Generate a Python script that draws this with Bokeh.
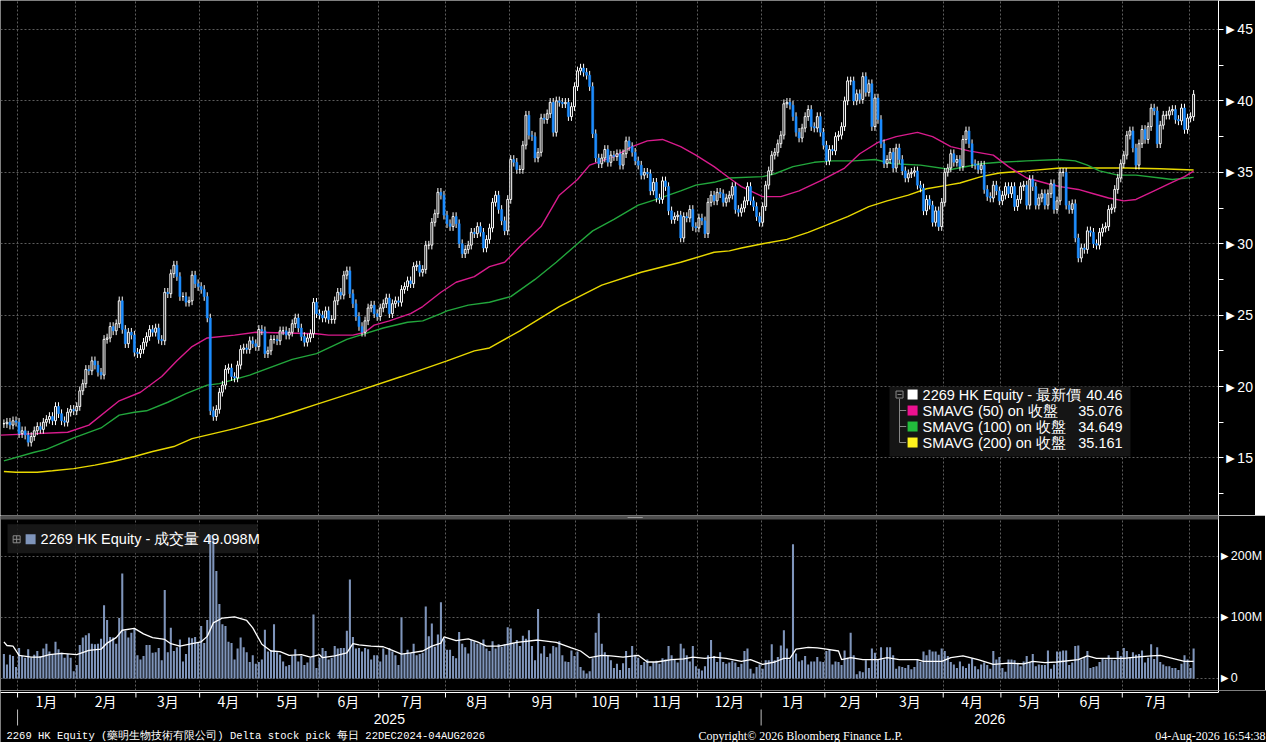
from bokeh.plotting import figure
from bokeh.layouts import column
from bokeh.models import Range1d, FixedTicker, SingleIntervalTicker, Span, BoxAnnotation
from bokeh.core.properties import value
from bokeh.embed import file_html
from bokeh.resources import INLINE

# trading days per month, Dec 2024 .. Aug 2026
month_names = ["12月", "1月", "2月", "3月", "4月", "5月", "6月", "7月", "8月", "9月", "10月", "11月", "12月",
               "1月", "2月", "3月", "4月", "5月", "6月", "7月", "8月"]
month_days = [5, 19, 20, 21, 19, 20, 20, 22, 21, 22, 20, 20, 21, 21, 17, 22, 19, 19, 21, 22, 2]
years = ["2025", "2026"]

# daily close (HKD)
close = [
    17.4, 17.5, 17.3, 17.6, 17.5,
    16.7, 16.9, 16.6, 16.1, 16.5, 16.9, 17.2, 17.0, 17.5, 17.7, 17.9, 17.6, 18.6, 18.1, 17.6, 17.5, 18.2, 18.4, 18.3,
    18.6, 19.7, 20.2, 21.2, 21.1, 21.8, 21.5, 21.0, 20.8, 23.3, 23.4, 24.2, 23.9, 24.4, 26.0, 24.0, 23.0, 23.8, 23.6, 22.4,
    22.3, 22.6, 23.1, 23.5, 24.0, 23.8, 24.1, 23.3, 23.2, 26.6, 26.5, 27.9, 28.5, 27.7, 26.3, 26.3, 25.9, 26.0, 27.8, 27.2, 27.0,
    26.8, 26.3, 24.8, 18.3, 17.9, 18.4, 19.6, 20.1, 21.2, 21.3, 20.7, 20.6, 21.5, 22.6, 22.7, 22.6, 23.2, 23.0, 22.8,
    24.0, 23.9, 22.3, 22.5, 23.3, 23.3, 23.2, 23.9, 23.9, 23.6, 23.8, 24.4, 24.8, 24.1, 23.5, 23.1, 23.4, 23.7, 25.9, 25.1,
    25.0, 24.8, 25.3, 24.7, 24.7, 26.0, 26.6, 26.4, 27.8, 28.1, 26.5, 25.8, 24.9, 24.2, 23.8, 24.6, 25.5, 25.7, 25.1, 24.9,
    25.5, 25.8, 26.2, 25.1, 25.8, 26.0, 25.9, 26.8, 27.0, 27.4, 27.2, 28.4, 28.5, 28.0, 28.2, 29.9, 29.9, 31.5, 32.1, 33.6, 33.4, 32.0,
    31.4, 31.2, 31.9, 31.4, 30.0, 29.3, 29.6, 29.9, 30.8, 30.7, 31.2, 30.8, 29.7, 30.3, 31.1, 32.9, 33.4, 32.4, 31.6, 30.9, 33.1,
    35.9, 35.7, 35.2, 35.2, 36.9, 39.0, 37.6, 37.5, 36.0, 36.4, 38.8, 38.7, 39.1, 39.9, 37.8, 40.0, 39.9, 39.8, 39.9, 38.9, 39.6, 41.0,
    42.1, 42.3, 42.0, 41.8, 41.0, 37.7, 36.0, 35.6, 36.0, 36.6, 35.7, 36.2, 36.1, 36.3, 35.5, 36.3, 37.2, 36.8, 36.4, 35.8,
    35.5, 34.8, 35.0, 34.9, 33.7, 34.3, 33.2, 33.1, 34.4, 34.0, 32.3, 31.7, 31.9, 32.0, 30.4, 31.9, 31.8, 32.4, 31.2, 31.1,
    31.8, 31.6, 30.7, 32.9, 33.4, 33.0, 33.6, 33.5, 32.9, 33.2, 33.4, 34.0, 32.4, 32.2, 32.5, 33.0, 34.0, 33.0, 32.6, 31.9, 31.5,
    32.6, 34.1, 35.1, 36.2, 36.4, 37.0, 37.6, 39.8, 39.9, 39.7, 38.9, 37.8, 37.4, 38.1, 38.9, 39.4, 38.2, 38.1, 38.9, 37.8, 36.9,
    35.8, 36.6, 36.5, 37.5, 37.6, 38.2, 40.0, 41.4, 41.4, 40.0, 40.5, 40.1, 41.7, 40.6, 41.2, 38.2, 40.2,
    38.7, 37.0, 35.6, 35.9, 36.4, 35.3, 36.7, 35.9, 35.1, 34.6, 34.9, 35.0, 35.1, 34.1, 33.9, 32.3, 33.1, 32.7, 31.5, 32.3, 31.2, 32.9,
    35.0, 35.3, 36.3, 35.7, 35.9, 35.4, 37.3, 37.9, 37.0, 35.6, 35.5, 35.2, 35.5, 33.8, 33.3, 33.2, 34.1, 33.7, 33.0,
    33.4, 34.0, 33.5, 34.0, 32.6, 33.1, 34.0, 34.1, 32.7, 34.5, 34.0, 32.7, 33.2, 33.5, 32.7, 33.5, 34.2, 32.4, 33.0,
    35.0, 35.0, 32.7, 32.4, 32.8, 30.4, 29.0, 29.7, 29.6, 30.9, 30.8, 30.0, 29.9, 30.8, 31.1, 31.2, 32.4, 32.5, 33.8, 34.6, 35.6,
    36.2, 37.6, 37.9, 36.7, 35.5, 37.0, 38.0, 37.3, 38.2, 39.5, 39.3, 37.0, 38.3, 39.0, 39.0, 39.3, 39.4, 38.7, 38.6, 39.5, 38.0, 38.8,
    38.9, 40.46,
]

# daily volume (millions of shares)
volume = [
    40, 23, 39, 37, 19,
    50, 37, 34, 48, 34, 39, 45, 37, 49, 57, 44, 40, 60, 48, 42, 34, 40, 34, 12,
    22, 55, 67, 71, 74, 57, 56, 57, 65, 120, 96, 68, 67, 57, 99, 172, 78, 67, 75, 82,
    38, 31, 37, 55, 55, 42, 43, 50, 30, 145, 43, 83, 45, 51, 64, 28, 40, 67, 66, 68, 58,
    86, 58, 96, 235, 230, 176, 122, 89, 86, 60, 58, 31, 49, 67, 51, 43, 27, 38, 24,
    27, 31, 80, 44, 46, 89, 43, 39, 28, 20, 22, 37, 48, 28, 37, 22, 26, 34, 105, 17,
    34, 50, 45, 31, 34, 53, 49, 50, 50, 78, 162, 68, 49, 50, 44, 50, 48, 31, 38, 38,
    28, 49, 39, 50, 44, 38, 22, 100, 40, 47, 42, 57, 38, 40, 42, 118, 69, 90, 52, 72, 125, 66,
    47, 47, 37, 33, 76, 57, 51, 41, 63, 61, 57, 57, 64, 49, 45, 61, 49, 56, 52, 56, 84,
    82, 58, 63, 53, 70, 65, 79, 53, 30, 114, 41, 53, 35, 41, 53, 51, 61, 38, 28, 27, 46, 37,
    44, 19, 13, 8, 12, 33, 75, 107, 57, 43, 38, 30, 17, 24, 14, 25, 45, 17, 53, 39,
    34, 22, 27, 31, 20, 27, 29, 24, 33, 31, 53, 38, 31, 26, 57, 49, 38, 28, 53, 20,
    16, 13, 20, 38, 63, 37, 27, 43, 27, 24, 26, 29, 26, 19, 24, 45, 49, 16, 8, 19, 23,
    16, 30, 30, 56, 30, 35, 54, 79, 49, 31, 220, 41, 28, 30, 37, 23, 28, 28, 35, 28, 27,
    45, 47, 23, 28, 27, 22, 46, 34, 75, 38, 7, 12, 10, 30, 17, 49, 42,
    31, 51, 31, 51, 51, 38, 16, 20, 19, 17, 22, 15, 19, 31, 27, 44, 38, 47, 44, 44, 39, 49,
    45, 37, 27, 23, 17, 28, 20, 17, 24, 33, 20, 15, 23, 26, 22, 16, 45, 31, 35,
    17, 11, 31, 31, 30, 24, 20, 28, 37, 27, 40, 20, 23, 22, 22, 46, 16, 23, 44,
    44, 46, 46, 22, 26, 53, 54, 31, 35, 45, 17, 19, 20, 27, 32, 31, 38, 31, 30, 45, 37,
    50, 45, 35, 43, 39, 40, 46, 26, 34, 56, 32, 51, 27, 23, 20, 20, 17, 17, 14, 24, 38, 31,
    17, 49.098,
]

# moving averages (trading-day index, value)
sma50_day = [-1, 21, 28, 38, 45, 52, 57, 62, 67, 76, 83, 103, 107, 115, 119, 122, 127, 134, 138, 144,
             149, 155, 160, 165, 170, 177, 183, 189, 193, 201, 207, 212, 217, 223, 228, 234, 239, 243, 250, 256,
             262, 269, 277, 282, 288, 294, 301, 306, 312, 318, 326, 331, 337, 344, 348, 354, 359, 364, 369, 373,
             379, 384, 389, 392]
sma50 = [16.6, 16.8, 17.3, 19.0, 19.6, 20.7, 21.8, 22.8, 23.4, 23.6, 23.8, 23.7, 23.6, 23.6, 23.8, 24.3, 24.6, 25.1, 25.6, 26.6,
         27.3, 27.7, 28.4, 28.7, 29.8, 31.2, 33.4, 34.5, 35.5, 36.1, 36.8, 37.2, 37.3, 36.8, 36.2, 35.4, 34.6, 34.0, 33.3, 33.3,
         33.7, 34.4, 35.3, 36.3, 37.1, 37.5, 37.8, 37.5, 36.8, 36.5, 36.2, 35.4, 34.6, 34.2, 34.0, 33.8, 33.5, 33.2, 33.0, 33.1,
         33.7, 34.2, 34.7, 35.076]
sma100_day = [0, 10, 14, 23, 32, 38, 43, 47, 54, 60, 67, 71, 81, 95, 103, 113, 119, 125, 133, 138,
              144, 146, 153, 160, 167, 175, 182, 189, 194, 201, 209, 215, 223, 228, 234, 239, 250, 254, 260, 267,
              273, 280, 287, 293, 302, 312, 322, 328, 337, 348, 353, 357, 361, 367, 373, 381, 385, 392]
sma100 = [14.8, 15.4, 15.6, 16.4, 17.1, 18.0, 18.2, 18.3, 18.9, 19.5, 20.1, 20.2, 20.8, 21.9, 22.3, 23.3, 23.7, 24.1, 24.5, 24.6,
          25.1, 25.3, 25.7, 25.9, 26.3, 27.5, 28.7, 30.0, 30.9, 31.7, 32.7, 33.1, 33.7, 34.1, 34.3, 34.6, 34.7, 34.9, 35.4, 35.7,
          35.8, 35.8, 35.9, 35.6, 35.5, 35.2, 35.6, 35.7, 35.8, 35.9, 35.8, 35.5, 35.1, 34.8, 34.8, 34.6, 34.5, 34.649]
sma200_day = [0, 4, 11, 16, 23, 30, 36, 43, 49, 56, 62, 69, 76, 82, 89, 95, 103, 114, 131, 146,
              155, 160, 170, 183, 197, 210, 223, 234, 239, 243, 250, 258, 265, 271, 278, 285, 291, 298, 304, 311,
              315, 322, 328, 337, 348, 359, 370, 381, 392]
sma200 = [14.05, 14.0, 14.0, 14.1, 14.25, 14.5, 14.75, 15.1, 15.45, 15.8, 16.35, 16.7, 17.05, 17.4, 17.8, 18.2, 18.75, 19.5, 20.7, 21.8,
          22.5, 22.7, 23.9, 25.6, 27.1, 28.0, 28.7, 29.4, 29.5, 29.7, 30.0, 30.3, 30.8, 31.3, 31.9, 32.6, 33.0, 33.4, 33.85, 34.1,
          34.25, 34.7, 34.95, 35.1, 35.3, 35.3, 35.3, 35.25, 35.161]
vma_day = [0, 1, 3, 5, 9, 12, 15, 19, 24, 28, 32, 34, 37, 39, 43, 46, 49, 53, 55, 58,
           62, 65, 67, 69, 72, 76, 80, 82, 85, 88, 91, 94, 98, 101, 104, 105, 109, 113, 115, 117,
           121, 125, 127, 131, 134, 138, 141, 144, 145, 149, 153, 156, 159, 163, 166, 169, 176, 182, 187, 190,
           193, 197, 200, 204, 209, 212, 215, 220, 224, 227, 231, 234, 238, 243, 246, 250, 254, 257, 259, 261,
           265, 268, 271, 275, 276, 279, 283, 288, 291, 295, 301, 303, 309, 312, 316, 321, 326, 331, 336, 339,
           343, 347, 354, 357, 360, 365, 369, 373, 378, 381, 385, 389, 392]
vma = [60, 54, 53, 38, 35, 35, 39, 41, 39, 46, 48, 58, 67, 79, 82, 73, 67, 64, 57, 53,
       57, 60, 69, 91, 99, 101, 95, 83, 56, 45, 44, 38, 39, 35, 39, 34, 37, 42, 57, 55,
       53, 52, 48, 40, 42, 45, 53, 58, 68, 62, 65, 60, 53, 53, 56, 59, 63, 59, 50, 45,
       34, 38, 37, 35, 38, 27, 27, 31, 32, 35, 33, 35, 33, 28, 31, 23, 27, 33, 33, 48,
       51, 50, 48, 45, 31, 34, 31, 31, 34, 31, 31, 28, 28, 34, 37, 31, 23, 25, 24, 28,
       26, 27, 31, 37, 33, 33, 33, 35, 37, 38, 33, 28, 28]

BG = "black"
GRID = "#5c5c5c"
DOWN = "#1c8cff"
VOL = "#7f95bb"
C50, C100, C200 = "#d81b8c", "#22a63c", "#e8d800"
FONT = "Liberation Sans"
wick = 0.3

W, FRAME_W = 1266, 1218
x_start, x_end = -1.12, 400.2
xr = Range1d(x_start, x_end)
px = (x_end - x_start) / FRAME_W  # index units per pixel

# month boundaries and label positions (trading-day index)
bounds, centers = [], []
pos = 0
for d in month_days:
    centers.append(pos + (d - 1) / 2)
    bounds.append(pos + d - 0.5)
    pos += d
bounds = bounds[:-1]
lab_x = [c for c, d in zip(centers, month_days) if d >= 10]
lab_t = [m for m, d in zip(month_names, month_days) if d >= 10]
year_bounds = [bounds[0], bounds[12]]
year_centers = [(bounds[0] + bounds[12]) / 2, (bounds[12] + x_end) / 2]

# ---- candles ----
opens = [close[0]] + close[:-1]
ix = list(range(len(close)))
up = [i for i in ix if close[i] >= opens[i]]
dn = [i for i in ix if close[i] < opens[i]]
hi = [max(o, c) + wick for o, c in zip(opens, close)]
lo = [min(o, c) - wick for o, c in zip(opens, close)]


def style_right_axis(ax, labels, size):
    ax.axis_line_color = "white"
    ax.major_tick_line_color = None
    ax.major_tick_out = 0
    ax.major_tick_in = 0
    ax.minor_tick_line_color = "white"
    ax.minor_tick_out = 5
    ax.minor_tick_in = 0
    ax.major_label_overrides = labels
    ax.major_label_standoff = 0
    ax.major_label_text_color = "white"
    ax.major_label_text_font = FONT
    ax.major_label_text_font_size = size


def base_fig(h, yr):
    f = figure(frame_width=FRAME_W, frame_height=h, x_range=xr, y_range=yr,
               y_axis_location="right", x_axis_location=None, toolbar_location=None,
               output_backend="svg", background_fill_color=BG, border_fill_color=BG,
               outline_line_color=None, min_border=0)
    for g in (f.xgrid, f.ygrid):
        g.grid_line_color = GRID
        g.grid_line_dash = "2 2"
    f.xgrid.ticker = FixedTicker(ticks=bounds)
    return f


price = base_fig(515, Range1d(10.97, 47.03))
price.yaxis.ticker = SingleIntervalTicker(interval=5, num_minor_ticks=2)
style_right_axis(price.yaxis[0], {v: "►" + str(v) for v in range(10, 50, 5)}, "14px")

price.line(sma200_day, sma200, line_color=C200, line_width=1.4)
price.line(sma100_day, sma100, line_color=C100, line_width=1.4)
price.line(sma50_day, sma50, line_color=C50, line_width=1.4)

price.segment(x0=ix, y0=lo, x1=ix, y1=hi, line_color="white", line_width=1)
price.vbar(x=dn, top=[opens[i] for i in dn], bottom=[close[i] for i in dn], width=0.7,
           fill_color=DOWN, line_color=DOWN, line_width=0.5)
price.vbar(x=up, top=[close[i] for i in up], bottom=[opens[i] for i in up], width=0.62,
           fill_color=BG, line_color="white", line_width=1)

# price legend
rows = [19.44, 18.32, 17.20, 16.08]
price.quad(left=[291.8], right=[371.2], bottom=[15.1], top=[20.0], fill_color="#151515", line_color=None)
price.segment(x0=[295.1] * 4, y0=[rows[0] - 0.3, rows[1], rows[2], rows[3]],
              x1=[295.1, 297.3, 297.3, 297.3], y1=[rows[3], rows[1], rows[2], rows[3]],
              line_color="#8a8a8a", line_width=1)
price.scatter([295.1], [rows[0]], marker="square", size=7, fill_color="#151515", line_color="#8a8a8a")
price.scatter([295.1], [rows[0]], marker="dash", size=4, line_color="#8a8a8a")
price.scatter([299.4] * 4, rows, marker="square", size=10, line_color=None,
              fill_color=["white", "#ec118f", "#22bb3c", "#fff21e"])
legend_names = ["2269 HK Equity - 最新價", "SMAVG (50)  on 收盤", "SMAVG (100)  on 收盤", "SMAVG (200)  on 收盤"]
legend_vals = [f"{close[-1]:.2f}", f"{sma50[-1]:.3f}", f"{sma100[-1]:.3f}", f"{sma200[-1]:.3f}"]
price.text([302.7] * 4, rows, text=legend_names, text_color="white", text_font=value(FONT),
           text_font_size=value("14.5px"), text_baseline="middle", text_align="left")
price.text([368.6] * 4, rows, text=legend_vals, text_color="white", text_font=value(FONT),
           text_font_size=value("14.5px"), text_baseline="middle", text_align="right")

# ---- volume ----
vol = base_fig(175, Range1d(-19.7, 267))
vol.yaxis.ticker = FixedTicker(ticks=[0, 100, 200])
style_right_axis(vol.yaxis[0], {0: "►0", 100: "►100M", 200: "►200M"}, "12.5px")

vol.quad(left=[1.2], right=[83.6], bottom=[205], top=[252.5], fill_color="#1a1a1a", fill_alpha=0.9, line_color=None)
vol.vbar(x=list(range(len(volume))), top=volume, bottom=0, width=0.68, fill_color=VOL, line_color=None)
vol.line(vma_day, vma, line_color="white", line_width=1.3)

vol.scatter([4.2], [228], marker="square_cross", size=7, fill_color="#1a1a1a", line_color="#8a8a8a")
vol.scatter([8.8], [228], marker="square", size=10, fill_color=VOL, line_color=None)
vol.text([12.1], [228], text=[f"2269 HK Equity - 成交量 {volume[-1]:.3f}M"], text_color="white",
         text_font=value(FONT), text_font_size=value("14.5px"), text_baseline="middle", text_align="left")

# separator bar between the panels
vol.add_layout(Span(location=263.7, dimension="width", line_color="#4e4e4e", line_width=4))
vol.add_layout(BoxAnnotation(left=205.5, right=210.5, bottom=262.8, top=264.6, fill_color="#9a9a9a",
                             fill_alpha=1, line_color=None))

# ---- date axis strip and footer (y in pixels from the strip top) ----
strip = figure(frame_width=W, frame_height=52, x_range=Range1d(x_start, x_start + W * px),
               y_range=Range1d(52, 0), x_axis_location=None, y_axis_location=None,
               toolbar_location=None, output_backend="svg", background_fill_color=BG,
               border_fill_color=BG, outline_line_color=None, min_border=0)
strip.xgrid.visible = False
strip.ygrid.visible = False
strip.segment(x0=[x_start], y0=[2], x1=[x_end], y1=[2], line_color="white", line_width=1)
strip.segment(x0=[x_end], y0=[0], x1=[x_end], y1=[2], line_color="white", line_width=1)
strip.segment(x0=bounds, y0=[2] * len(bounds), x1=bounds, y1=[7] * len(bounds), line_color="white", line_width=1)
strip.text(lab_x, [10.5] * len(lab_x), text=lab_t, text_color="white", text_font=value("Noto Sans CJK TC"),
           text_font_size=value("14px"), text_baseline="middle", text_align="center")
strip.segment(x0=year_bounds, y0=[19, 19], x1=year_bounds, y1=[35, 35], line_color="#bdbdbd", line_width=1)
strip.text(year_centers, [28] * 2, text=years, text_color="white", text_font=value(FONT),
           text_font_size=value("14px"), text_baseline="middle", text_align="center")

foot_y = [45.5]
strip.text([x_start + 6 * px], foot_y, text=["2269 HK Equity (藥明生物技術有限公司) Delta stock pick 每日 22DEC2024-04AUG2026"],
           text_color="white", text_font=value("Liberation Mono"), text_font_size=value("10.5px"),
           text_baseline="middle", text_align="left")
strip.text([x_start + 698 * px], foot_y, text=["Copyright© 2026 Bloomberg Finance L.P."], text_color="white",
           text_font=value("Liberation Serif"), text_font_size=value("12px"), text_baseline="middle", text_align="left")
strip.text([x_start + (W - 1) * px], foot_y, text=["04-Aug-2026 16:54:38"], text_color="white",
           text_font=value("Liberation Serif"), text_font_size=value("12px"), text_baseline="middle", text_align="right")

p = column(price, vol, strip)
open("out.html", "w").write(file_html(p, INLINE))
